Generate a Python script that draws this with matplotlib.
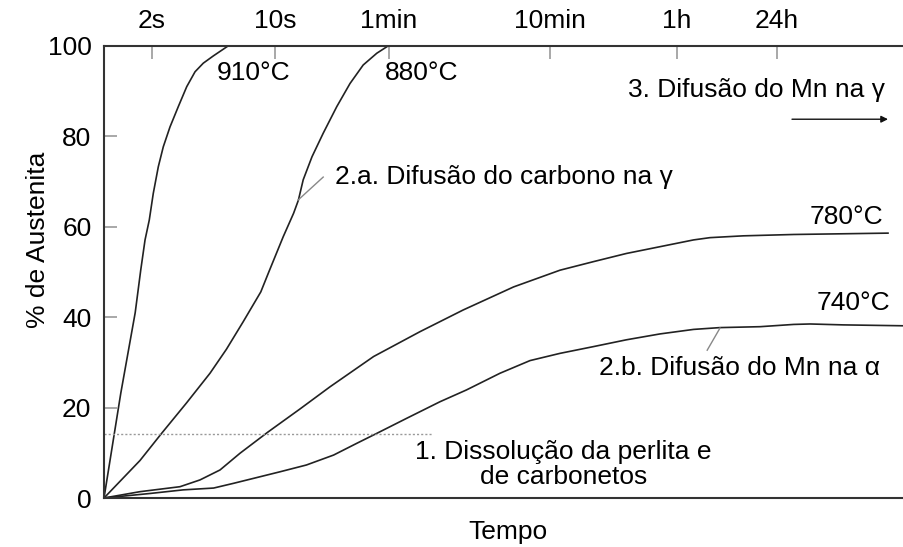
import matplotlib
matplotlib.use("Agg")
import matplotlib.pyplot as plt

plt.rcParams["font.family"] = ["Liberation Sans", "DejaVu Sans"]

# x is a schematic time position (0-100 across the axis), y is % austenite
x_910 = [0, 2.1, 3.9, 4.59, 5.13, 5.66, 6.16, 6.79, 7.41, 8.25, 9.29, 10.34,
         11.38, 12.41, 13.66, 15.5]
y_910 = [0, 23.2, 41.0, 50.4, 57.1, 61.5, 67.4, 73.3, 77.7, 82.1, 86.6, 91.0,
         94.3, 96.2, 97.8, 100]

x_880 = [0, 4.5, 7.2, 10.3, 13.25, 15.3, 17.4, 19.6, 20.6, 22.4, 23.7, 24.3,
         24.9, 26.0, 27.4, 29.1, 30.75, 32.4, 34.1, 35.5]
y_880 = [0, 8.3, 14.3, 21.0, 27.6, 32.9, 39.0, 45.6, 50.0, 57.8, 63.0, 65.9,
         70.4, 75.5, 80.7, 86.6, 91.7, 95.8, 98.4, 100]

x_780 = [0, 4.5, 9.5, 12.0, 14.5, 17.0, 20.5, 24.5, 28.25, 33.7, 39.5,
         44.9, 51.2, 57.0, 61.2, 65.3, 69.5, 73.7, 75.75, 79.9, 86.2, 98.0]
y_780 = [0, 1.4, 2.5, 4.0, 6.2, 9.9, 14.6, 19.7, 24.6, 31.3, 36.8,
         41.6, 46.7, 50.4, 52.3, 54.1, 55.6, 57.1, 57.6, 58.0, 58.3, 58.6]

x_740 = [0, 5.75, 9.9, 13.7, 16.2, 19.5, 22.0, 25.3, 28.7, 31.6, 34.1, 37.8,
         42.0, 45.3, 49.5, 53.25, 57.0, 61.2, 65.3, 69.5, 73.7, 77.0, 82.0,
         86.2, 88.25, 92.4, 100]
y_740 = [0, 1.0, 1.8, 2.2, 3.25, 4.7, 5.8, 7.3, 9.5, 12.1, 14.3, 17.6,
         21.3, 23.9, 27.6, 30.4, 32.0, 33.5, 35.0, 36.3, 37.3, 37.7, 37.9,
         38.4, 38.5, 38.3, 38.1]

time_ticks = [6.0, 21.4, 35.6, 55.75, 71.6, 84.1]
time_labels = ["2s", "10s", "1min", "10min", "1h", "24h"]
y_ticks = [0, 20, 40, 60, 80, 100]

dissolution_level = 14.2
dissolution_end = 41.1

FS = 19

fig = plt.figure(figsize=(9.04, 5.47), dpi=100)
ax = fig.add_axes([104 / 904, 49 / 547, 800 / 904, 452 / 547])

line_kw = dict(color="#222222", linewidth=1.2, solid_joinstyle="round")
ax.plot(x_910, y_910, **line_kw)
ax.plot(x_880, y_880, **line_kw)
ax.plot(x_780, y_780, **line_kw)
ax.plot(x_740, y_740, **line_kw)

ax.plot([0, dissolution_end], [dissolution_level, dissolution_level],
        color="#999999", linestyle=(0, (1.5, 1.5)), linewidth=1.0)

ax.set_xlim(0, 100)
ax.set_ylim(0, 100)

for side in ("left", "top", "bottom"):
    ax.spines[side].set_color("#333333")
    ax.spines[side].set_linewidth(1.5)
ax.spines["right"].set_visible(False)

ax.xaxis.tick_top()
ax.set_xticks(time_ticks)
ax.set_xticklabels(time_labels)
ax.set_yticks(y_ticks)
ax.tick_params(axis="both", direction="in", length=9, width=1.2,
               color="#999999", labelsize=FS, pad=9)

ax.text(14.1, 94.0, "910°C", fontsize=FS, ha="left", va="center")
ax.text(35.1, 94.0, "880°C", fontsize=FS, ha="left", va="center")
ax.text(97.4, 62.2, "780°C", fontsize=FS, ha="right", va="center")
ax.text(98.25, 43.1, "740°C", fontsize=FS, ha="right", va="center")

ax.text(97.6, 90.3, "3. Difusão do Mn na γ", fontsize=FS, ha="right", va="center")
ax.annotate("", xy=(98.0, 83.8), xytext=(86.0, 83.8),
            arrowprops=dict(arrowstyle="-|>", color="#111111", lw=1.0,
                            mutation_scale=10, shrinkA=0, shrinkB=0))

ax.text(28.9, 71.0, "2.a. Difusão do carbono na γ", fontsize=FS, ha="left", va="center")
ax.plot([24.25, 27.4], [65.9, 71.0], color="#888888", linewidth=1.0)

ax.text(97.0, 28.8, "2.b. Difusão do Mn na α", fontsize=FS, ha="right", va="center")
ax.plot([77.0, 75.4], [37.6, 32.7], color="#888888", linewidth=1.0)

ax.text(57.4, 7.5, "1. Dissolução da perlita e\nde carbonetos", fontsize=FS,
        ha="center", va="center", linespacing=1.05, multialignment="center")

fig.text(508 / 904, 1 - 532 / 547, "Tempo", fontsize=FS, ha="center", va="center")
fig.text(38 / 904, 1 - 240 / 547, "% de Austenita", fontsize=FS, ha="center",
         va="center", rotation=90)

fig.savefig("out.png", dpi=100, facecolor="white")
